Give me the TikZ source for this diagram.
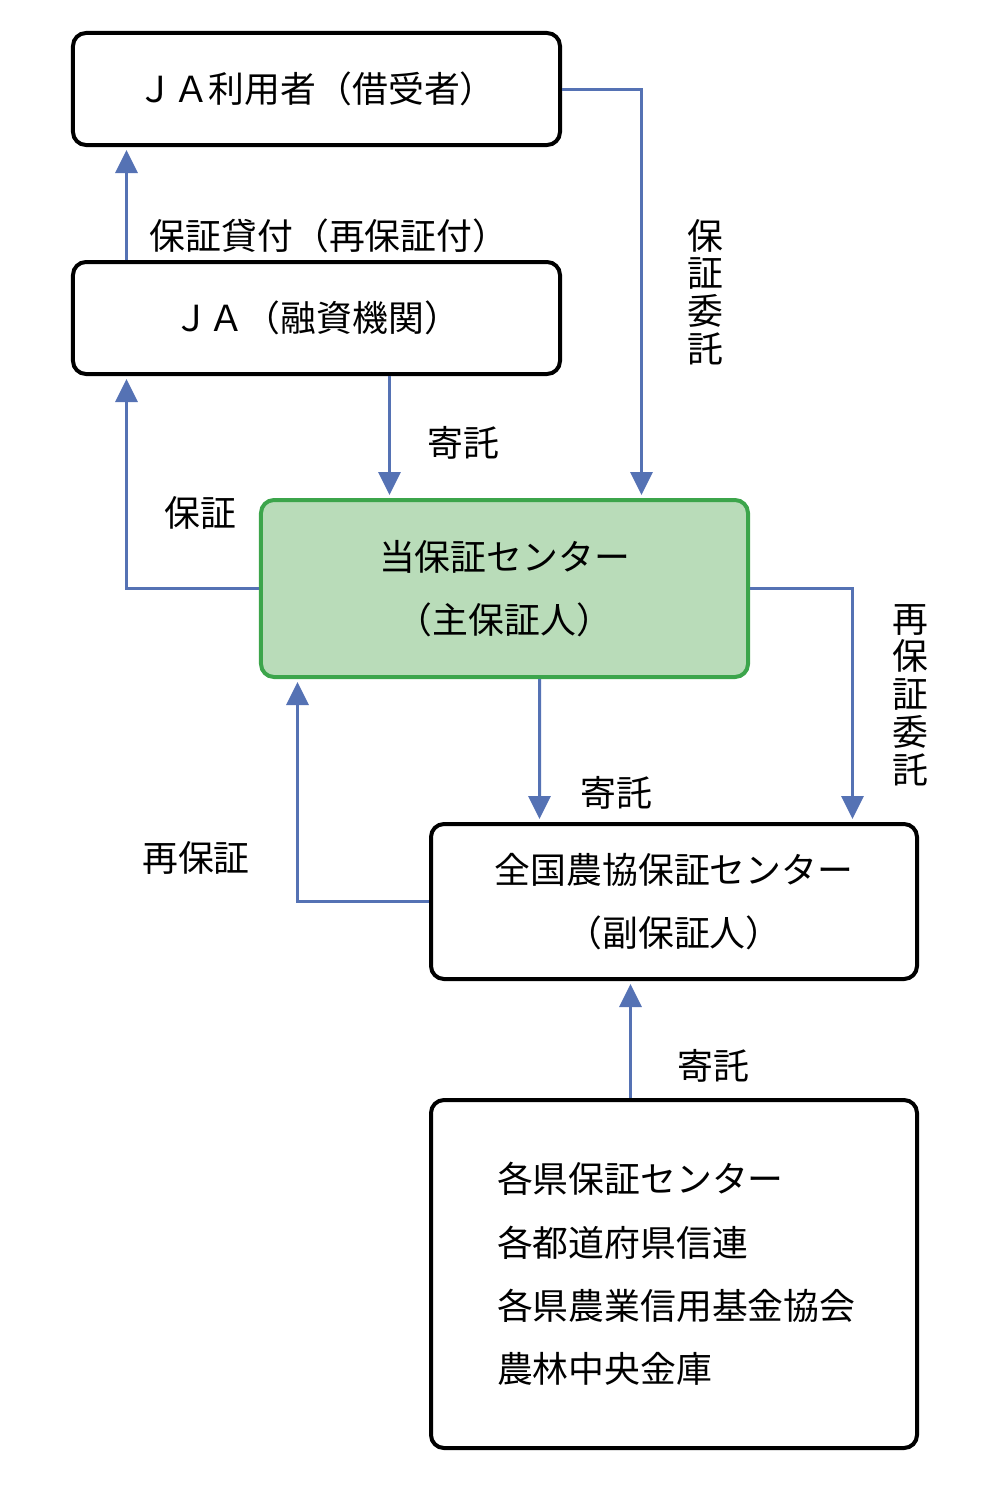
\documentclass[tikz,border=0pt]{standalone}
\usepackage{fontspec}
\setmainfont{Noto Sans CJK JP}
\usepackage{xcolor}
\usetikzlibrary{positioning,calc,arrows.meta}
\definecolor{ptrblue}{RGB}{85,114,180}
\definecolor{mainfill}{RGB}{185,220,185}
\definecolor{mainedge}{RGB}{60,165,75}

\begin{document}
\begin{tikzpicture}[
    x=0.2mm, y=-0.2mm,
    font=\fontsize{20.4}{36}\selectfont,
    box/.style={rectangle, draw=black, line width=0.8mm, rounded corners=2.6mm, fill=white, align=center, inner sep=0pt},
    mainbox/.style={box, draw=mainedge, fill=mainfill},
    ptr/.style={-{Triangle[length=4.6mm, width=4.4mm]}, draw=ptrblue, line width=0.6mm, shorten >=0.6mm},
    vlabel/.style={align=center, font=\fontsize{20.4}{21.5}\selectfont}
]
    \useasboundingbox (0,0) rectangle (1000,1500);

    % Boxes
    \node[box, minimum width=97.4mm, minimum height=22.4mm] (user) at (316.5,89) {ＪＡ利用者（借受者）};
    \node[box, minimum width=97.4mm, minimum height=22.4mm] (ja) at (316.5,318) {ＪＡ（融資機関）};
    \node[mainbox, minimum width=97.4mm, minimum height=35.4mm] (center) at (504.5,588.5) {当保証センター\\（主保証人）};
    \node[box, minimum width=97.2mm, minimum height=31mm] (nat) at (674,901.5) {全国農協保証センター\\（副保証人）};
    \node[box, minimum width=97.2mm, minimum height=69.6mm, align=left, text width=70.8mm, inner xsep=13.2mm] (src) at (674,1274)
        {各県保証センター\\各都道府県信連\\各県農業信用基金協会\\農林中央金庫};

    % Labels
    \node (lloan) at (329,236) {保証貸付（再保証付）};
    \node[vlabel] (lentrust) at (705,292) {保\\証\\委\\託};
    \node (ldep1) at (463,443) {寄託};
    \node (lguar) at (200,513) {保証};
    \node[vlabel] (lreentrust) at (910,695) {再\\保\\証\\委\\託};
    \node (ldep2) at (616,793) {寄託};
    \node (lreguar) at (196,858) {再保証};
    \node (ldep3) at (713,1066) {寄託};

    % Arrows
    \draw[ptr] ($(ja.north west)+(55.5,0)$) -- ($(user.south west)+(55.5,0)$);
    \draw[ptr] (user.east) -| ($(center.north west)+(382.5,0)$);
    \draw[ptr] ($(ja.south west)+(318.5,0)$) -- ($(center.north west)+(130.5,0)$);
    \draw[ptr] (center.west) -| ($(ja.south west)+(55.5,0)$);
    \draw[ptr] ($(center.south west)+(280.5,0)$) -- ($(nat.north west)+(110.5,0)$);
    \draw[ptr] (center.east) -| ($(nat.north west)+(423.5,0)$);
    \draw[ptr] (nat.west) -| ($(center.south west)+(38.5,0)$);
    \draw[ptr] ($(src.north west)+(201.5,0)$) -- ($(nat.south west)+(201.5,0)$);
\end{tikzpicture}
\end{document}
